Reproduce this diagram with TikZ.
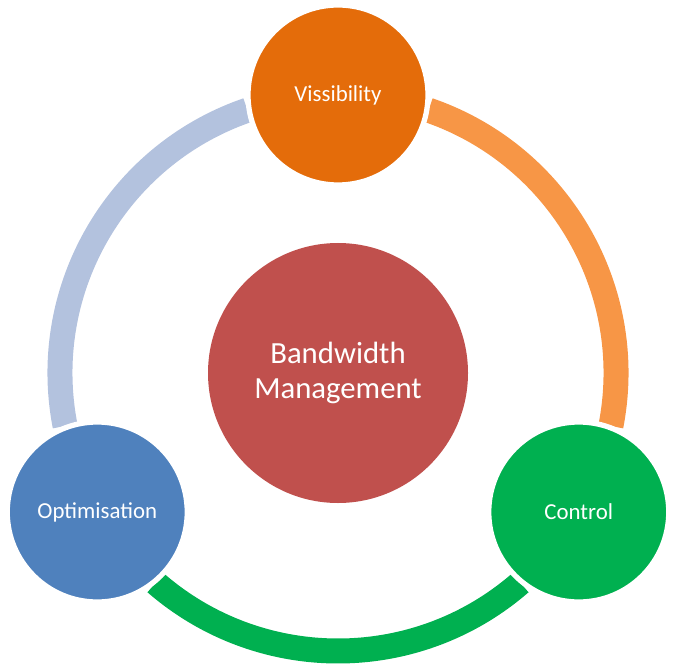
\documentclass[tikz,border=0pt]{standalone}
\usepackage{fontspec}
\setmainfont{Carlito}
\usetikzlibrary{positioning}
\definecolor{VisOrange}  {HTML}{E46C0A}
\definecolor{LightOrange}{HTML}{F79646}
\definecolor{CtrlGreen}  {HTML}{00B050}
\definecolor{OptBlue}    {HTML}{4F81BD}
\definecolor{PaleBlue}   {HTML}{B3C2DE}
\definecolor{CoreRed}    {HTML}{C0504D}
\tikzset{
  stage/.style={circle,fill=#1,draw=white,line width=3pt,minimum size=3.6cm,
                inner sep=0pt,font=\fontsize{13}{15}\selectfont\color{white}},
  core/.style={circle,fill=CoreRed,minimum size=5.2cm,inner sep=0pt,align=center,
               font=\fontsize{17.5}{20}\selectfont\color{white}},
  band/.style={draw=#1,line width=0.5cm,line cap=butt},
}

\begin{document}
\begin{tikzpicture}

  \useasboundingbox (0,0) rectangle (13.6,13.3);

  \coordinate (ring) at (6.76,5.84);

  % ring segments between the stages
  \draw[band=LightOrange] ([shift={(71:5.56)}]ring) arc[start angle=71,end angle=-11,radius=5.56];
  \draw[band=CtrlGreen]   ([shift={(311:5.56)}]ring) arc[start angle=311,end angle=229,radius=5.56];
  \draw[band=PaleBlue]    ([shift={(191:5.56)}]ring) arc[start angle=191,end angle=109,radius=5.56];

  \node[core] (bw) at (ring) {Bandwidth\\Management};

  \node[stage=VisOrange] (vis)  at ([shift={(90:5.56)}]ring)  {Vissibility};
  \node[stage=CtrlGreen] (ctrl) at ([shift={(-30:5.56)}]ring) {Control};
  \node[stage=OptBlue]   (opt)  at ([shift={(210:5.56)}]ring) {Optimisation};

\end{tikzpicture}
\end{document}
